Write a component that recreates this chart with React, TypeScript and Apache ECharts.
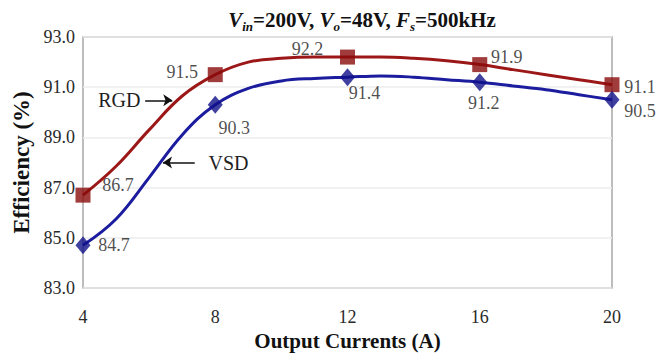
import React, { useEffect, useRef } from "react";
import * as echarts from "echarts";

// ---- data ----
const xMain = [4, 8, 12, 16, 20];
const rgdMain = [86.7, 91.5, 92.2, 91.9, 91.1];
const vsdMain = [84.7, 90.3, 91.4, 91.2, 90.5];

const xCurve = [4, 5, 6, 7, 8, 9, 10, 11, 12, 13, 14, 15, 16, 17, 18, 19, 20];
const rgdCurve = [86.7, 87.85, 89.3, 90.65, 91.5, 92.0, 92.15, 92.2, 92.2, 92.2, 92.15, 92.05, 91.9, 91.7, 91.5, 91.3, 91.1];
const vsdCurve = [84.7, 85.75, 87.4, 89.1, 90.3, 90.95, 91.25, 91.35, 91.4, 91.45, 91.4, 91.3, 91.2, 91.05, 90.9, 90.7, 90.5];

const xTicks = [4, 8, 12, 16, 20];
const yTicks = [83, 85, 87, 89, 91, 93];

// annotation anchors (data coordinates)
const rgdArrow = [[5.88, 90.48], [6.7, 90.48]];
const rgdText = [5.1, 90.48];
const vsdArrow = [[7.38, 88.0], [6.42, 88.0]];
const vsdText = [8.4, 88.0];

// ---- layout (label offsets in px) ----
const rgdLabelOffsets = [[35, -10], [-33, -3], [-40, -8], [27, -8], [28, 2]];
const vsdLabelOffsets = [[31, 0], [19, 23], [17, 16], [4, 21], [28, 11]];

const SERIF = "Liberation Serif";
const RED_LINE = "#9c1818";
const RED_MARK = "#8a0b0b";
const BLUE_LINE = "#1c1c9e";
const BLUE_MARK = "#10108a";

export default function App() {
  const ref = useRef<HTMLDivElement>(null);
  useEffect(() => {
    document.body.style.margin = "0";
    if (!ref.current) return;
    const chart = echarts.init(ref.current, undefined, { renderer: "svg" });

    const labelStyle = { color: "#1e1e1e", fontSize: 18, fontFamily: SERIF };
    const mkMain = (vals: number[], offs: number[][]) =>
      xMain.map((x, i) => ({
        value: [x, vals[i]],
        label: {
          show: true,
          position: "inside",
          offset: offs[i],
          formatter: vals[i].toFixed(1),
          ...labelStyle,
        },
      }));

    chart.setOption({
      animation: false,
      backgroundColor: "#fff",
      title: {
        left: 357,
        textAlign: "center",
        top: 2,
        text:
          "{i|V}{s|in}{n|=200V, }{i|V}{s|o}{n|=48V, }{i|F}{s|s}{n|=500kHz}",
        textStyle: {
          rich: {
            n: { fontFamily: SERIF, fontWeight: "bold", fontSize: 21, color: "#111", lineHeight: 26 },
            i: { fontFamily: SERIF, fontWeight: "bold", fontStyle: "italic", fontSize: 21, color: "#111", lineHeight: 26 },
            s: { fontFamily: SERIF, fontWeight: "bold", fontStyle: "italic", fontSize: 13, color: "#111", lineHeight: 26, verticalAlign: "bottom", padding: [7, 0, 0, 0] },
          },
        },
      },
      grid: {
        left: 83,
        right: 59,
        top: 37,
        bottom: 70,
        show: true,
        borderColor: "#a8a8a8",
        borderWidth: 1.5,
      },
      xAxis: {
        type: "value",
        min: 4,
        max: 20,
        interval: 4,
        name: "Output Currents (A)",
        nameLocation: "middle",
        nameGap: 36,
        nameTextStyle: { fontFamily: SERIF, fontWeight: "bold", fontSize: 21, color: "#111" },
        axisLine: { show: false },
        axisTick: { show: false },
        splitLine: { show: false },
        axisLabel: {
          margin: 20,
          fontFamily: SERIF,
          fontSize: 18,
          color: "#2a2a2a",
          formatter: (v: number) => (xTicks.includes(v) ? String(v) : ""),
        },
      },
      yAxis: {
        type: "value",
        min: 83,
        max: 93,
        interval: 2,
        name: "Efficiency (%)",
        nameLocation: "middle",
        nameGap: 45,
        nameTextStyle: { fontFamily: SERIF, fontWeight: "bold", fontSize: 23, color: "#111" },
        axisLine: { show: false },
        axisTick: { show: false },
        splitLine: { show: true, lineStyle: { color: "#ececec", width: 1.5 } },
        axisLabel: {
          margin: 8,
          fontFamily: SERIF,
          fontSize: 18,
          color: "#2a2a2a",
          formatter: (v: number) => (yTicks.includes(v) ? v.toFixed(1) : ""),
        },
      },
      series: [
        {
          name: "RGD curve",
          type: "line",
          smooth: 0.4,
          showSymbol: false,
          lineStyle: { color: RED_LINE, width: 3 },
          data: xCurve.map((x, i) => [x, rgdCurve[i]]),
          z: 3,
          markLine: {
            silent: true,
            animation: false,
            lineStyle: { color: "#111", width: 1.5, type: "solid" },
            symbolSize: [9, 9],
            label: { show: false },
            data: [
              [
                { coord: rgdArrow[0], symbol: "none" },
                { coord: rgdArrow[1], symbol: "arrow" },
              ],
              [
                { coord: vsdArrow[0], symbol: "none" },
                { coord: vsdArrow[1], symbol: "arrow" },
              ],
            ],
          },
          markPoint: {
            silent: true,
            symbol: "circle",
            symbolSize: 0,
            label: { show: true, position: "inside", color: "#1e1e1e", fontSize: 20, fontFamily: SERIF },
            data: [
              { coord: rgdText, value: "RGD", label: { formatter: "RGD" } },
              { coord: vsdText, value: "VSD", label: { formatter: "VSD" } },
            ],
          },
        },
        {
          name: "VSD curve",
          type: "line",
          smooth: 0.4,
          showSymbol: false,
          lineStyle: { color: BLUE_LINE, width: 3 },
          data: xCurve.map((x, i) => [x, vsdCurve[i]]),
          z: 3,
        },
        {
          name: "RGD",
          type: "scatter",
          symbol: "rect",
          symbolSize: 15,
          itemStyle: { color: RED_MARK },
          data: mkMain(rgdMain, rgdLabelOffsets),
          z: 5,
        },
        {
          name: "VSD",
          type: "scatter",
          symbol: "diamond",
          symbolSize: [15, 18],
          itemStyle: { color: BLUE_MARK },
          data: mkMain(vsdMain, vsdLabelOffsets),
          z: 5,
        },
      ],
    });
    return () => chart.dispose();
  }, []);
  return <div ref={ref} style={{ width: 671, height: 358 }} />;
}
